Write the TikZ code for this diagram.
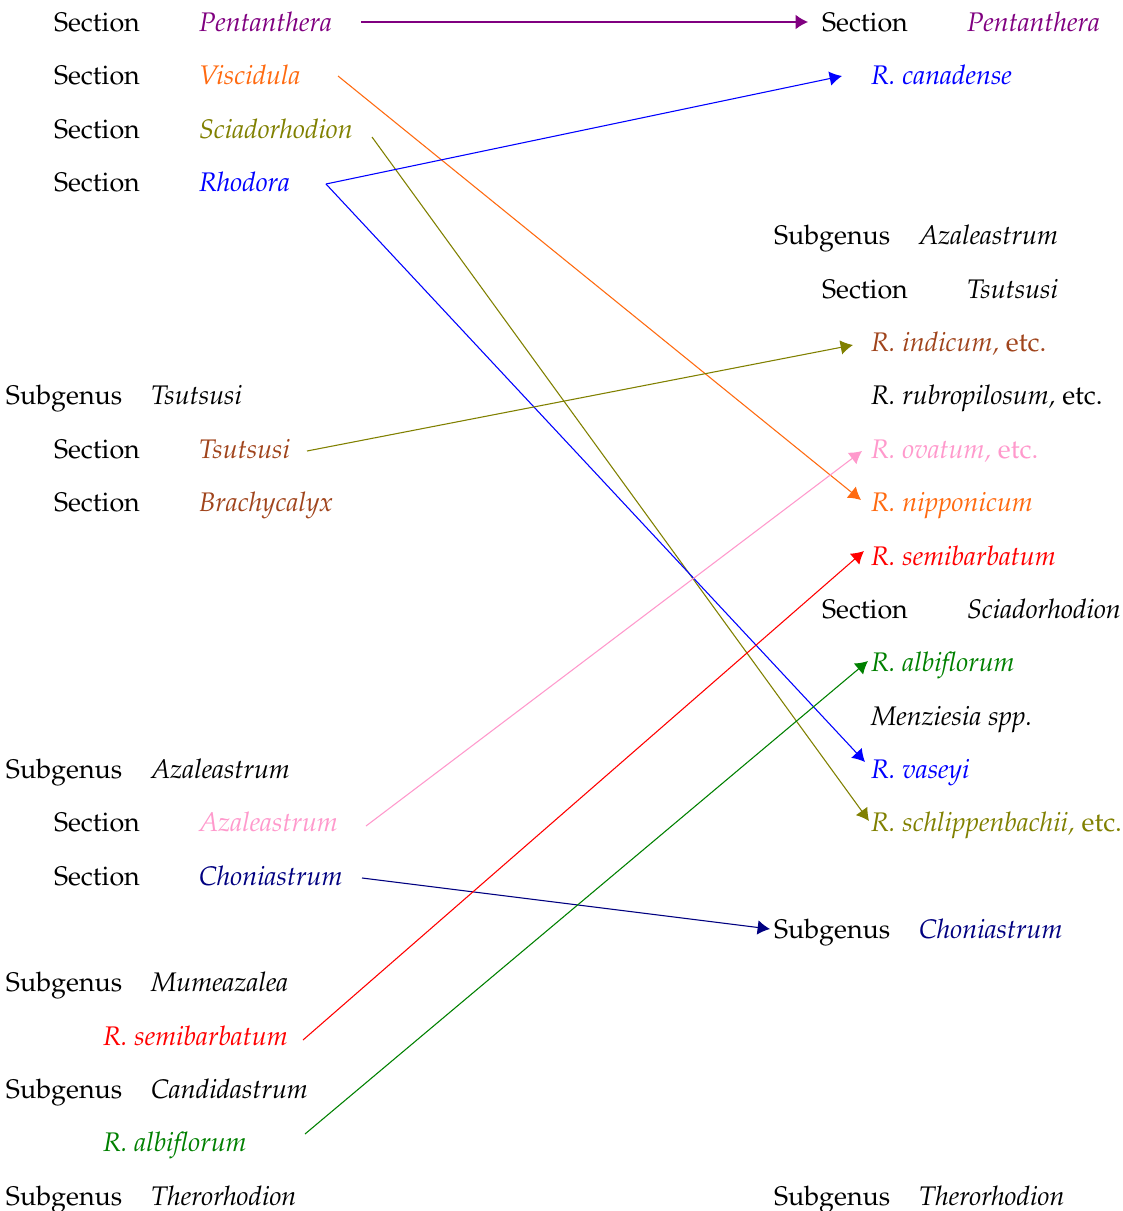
\documentclass[tikz,border=0pt]{standalone}
\usepackage[T1]{fontenc}
\usepackage{mathpazo}
\usetikzlibrary{arrows.meta}
\definecolor{cpurple}{HTML}{800080}
\definecolor{corange}{HTML}{FF6A10}
\definecolor{colive}{HTML}{808000}
\definecolor{cblue}{HTML}{0000FF}
\definecolor{cbrown}{HTML}{A0441C}
\definecolor{cpink}{HTML}{FF99CC}
\definecolor{cnavy}{HTML}{000080}
\definecolor{cgreen}{HTML}{008000}
\definecolor{cred}{HTML}{FF0000}
\tikzset{
  lbl/.style={anchor=base west, inner sep=0pt, outer sep=0pt},
  nm/.style={lbl, font=\itshape},
  arr/.style={-{Latex[length=4.6pt,width=5.4pt]}, line width=0.4pt},
}
\begin{document}
\begin{tikzpicture}[x=0.3719pt, y=-0.3719pt]
\useasboundingbox (0,0) rectangle (1122,1211);
% ---------- left column ----------
\node[lbl] (lsec0) at (54,31.5) {Section};
\node[nm, text=cpurple] (lpent) at (199,31.5) {Pentanthera};
\node[lbl] (lsec1) at (54,84.85) {Section};
\node[nm, text=corange] (lvisc) at (199,84.85) {Viscidula};
\node[lbl] (lsec2) at (54,138.2) {Section};
\node[nm, text=colive] (lscia) at (199,138.2) {Sciadorhodion};
\node[lbl] (lsec3) at (54,191.55) {Section};
\node[nm, text=cblue] (lrhod) at (199,191.55) {Rhodora};
\node[lbl] (lsub7) at (6,404.95) {Subgenus};
\node[nm] (ltsuG) at (151,404.95) {Tsutsusi};
\node[lbl] (lsec8) at (54,458.3) {Section};
\node[nm, text=cbrown] (ltsu) at (199,458.3) {Tsutsusi};
\node[lbl] (lsec9) at (54,511.65) {Section};
\node[nm, text=cbrown] (lbrach) at (199,511.65) {Brachycalyx};
\node[lbl] (lsub14) at (6,778.4) {Subgenus};
\node[nm] (lazaG) at (151,778.4) {Azaleastrum};
\node[lbl] (lsec15) at (54,831.75) {Section};
\node[nm, text=cpink] (laza) at (199,831.75) {Azaleastrum};
\node[lbl] (lsec16) at (54,885.1) {Section};
\node[nm, text=cnavy] (lchon) at (199,885.1) {Choniastrum};
\node[lbl] (lsub18) at (6,991.8) {Subgenus};
\node[nm] (lmum) at (151,991.8) {Mumeazalea};
\node[nm, text=cred] (lsemi) at (103,1045.15) {R. semibarbatum};
\node[lbl] (lsub20) at (6,1098.5) {Subgenus};
\node[nm] (lcand) at (151,1098.5) {Candidastrum};
\node[nm, text=cgreen] (lalbi) at (103,1151.85) {R. albiflorum};
\node[lbl] (lsub22) at (6,1205.2) {Subgenus};
\node[nm] (lther) at (151,1205.2) {Therorhodion};
% ---------- right column ----------
\node[lbl] (rsec0) at (822,31.5) {Section};
\node[nm, text=cpurple] (rpent) at (967,31.5) {Pentanthera};
\node[nm, text=cblue] (rcan) at (871,84.85) {R. canadense};
\node[lbl] (rsub4) at (774,244.9) {Subgenus};
\node[nm] (razaG) at (919,244.9) {Azaleastrum};
\node[lbl] (rsec5) at (822,298.25) {Section};
\node[nm] (rtsu) at (967,298.25) {Tsutsusi};
\node[lbl, text=cbrown] (rind) at (871,351.6) {\textit{R. indicum,} etc.};
\node[lbl] (rrub) at (871,404.95) {\textit{R. rubropilosum,} etc.};
\node[lbl, text=cpink] (rova) at (871,458.3) {\textit{R. ovatum,} etc.};
\node[nm, text=corange] (rnip) at (871,511.65) {R. nipponicum};
\node[nm, text=cred] (rsemi) at (871,565.0) {R. semibarbatum};
\node[lbl] (rsec11) at (822,618.35) {Section};
\node[nm] (rscia) at (967,618.35) {Sciadorhodion};
\node[nm, text=cgreen] (ralbi) at (871,671.7) {R. albiflorum};
\node[nm] (rmenz) at (871,725.05) {Menziesia spp.};
\node[nm, text=cblue] (rvas) at (871,778.4) {R. vaseyi};
\node[lbl, text=colive] (rsch) at (871,831.75) {\textit{R. schlippenbachii,} etc.};
\node[lbl] (rsub17) at (774,938.45) {Subgenus};
\node[nm, text=cnavy] (rchon) at (919,938.45) {Choniastrum};
\node[lbl] (rsub22) at (774,1205.2) {Subgenus};
\node[nm] (rther) at (919,1205.2) {Therorhodion};
% ---------- connector ends ----------
\coordinate (pentS) at (361,22);   \coordinate (pentE) at (808,22);
\coordinate (viscS) at (338,76);   \coordinate (nipE) at (861,500);
\coordinate (sciaS) at (372,137);  \coordinate (schE) at (869,821);
\coordinate (rhodS) at (326,184);  \coordinate (canE) at (842,76);
\coordinate (vasE) at (865,762);
\coordinate (tsuS) at (307,451);   \coordinate (indE) at (853,345);
\coordinate (azaS) at (366,826);   \coordinate (ovaE) at (862,451);
\coordinate (chonS) at (362,878);  \coordinate (chonE) at (770,929);
\coordinate (semiS) at (303,1040); \coordinate (semiE) at (864,551);
\coordinate (albiS) at (305,1134); \coordinate (albiE) at (868,661);
% ---------- connectors ----------
\draw[arr, cpurple] (pentS) -- (pentE);
\draw[arr, corange] (viscS) -- (nipE);
\draw[arr, colive] (sciaS) -- (schE);
\draw[arr, cblue] (rhodS) -- (canE);
\draw[arr, cblue] (rhodS) -- (vasE);
\draw[arr, colive] (tsuS) -- (indE);
\draw[arr, cpink] (azaS) -- (ovaE);
\draw[arr, cnavy] (chonS) -- (chonE);
\draw[arr, cred] (semiS) -- (semiE);
\draw[arr, cgreen] (albiS) -- (albiE);
\end{tikzpicture}
\end{document}
